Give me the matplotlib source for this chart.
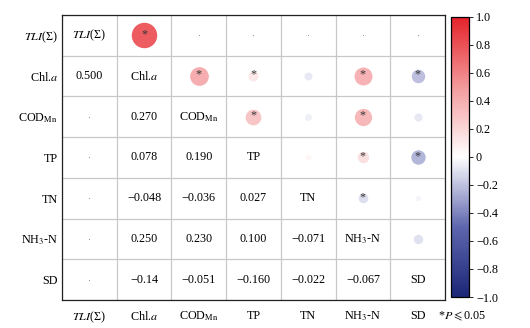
import numpy as np
import matplotlib
matplotlib.use("Agg")
import matplotlib.pyplot as plt
from matplotlib.colors import LinearSegmentedColormap, Normalize
from matplotlib.cm import ScalarMappable

plt.rcParams['font.family'] = ['Liberation Serif', 'DejaVu Serif']
plt.rcParams['mathtext.fontset'] = 'stix'

# --- data ---
labels = [r'$\mathit{TLI}$(Σ)', r'Chl.$\mathit{a}$', r'COD$_{\mathrm{Mn}}$', 'TP', 'TN',
          r'NH$_3$-N', 'SD']
# correlation values (lower triangle, row > col); None -> not shown (dot)
corr = [
    [None, None, None, None, None, None, None],
    [0.500, None, None, None, None, None, None],
    [None, 0.270, None, None, None, None, None],
    [None, 0.078, 0.190, None, None, None, None],
    [None, -0.048, -0.036, 0.027, None, None, None],
    [None, 0.250, 0.230, 0.100, -0.071, None, None],
    [None, -0.14, -0.051, -0.160, -0.022, -0.067, None],
]
# text as printed in the lower triangle
corr_text = {(6, 1): '−0.14'}
# significant pairs (row, col) with P <= 0.05
signif = [(1, 0), (2, 1), (3, 1), (5, 1), (6, 1), (3, 2), (5, 2), (5, 3), (6, 3), (5, 4)]

n = len(labels)

cmap = LinearSegmentedColormap.from_list(
    'rb', [(0.0, '#1b2676'), (0.25, '#5e66ae'), (0.5, '#ffffff'),
           (0.75, '#f39a9c'), (1.0, '#e5222a')])
norm = Normalize(-1, 1)

fig = plt.figure(figsize=(5.3, 3.28), dpi=100)
ax = fig.add_axes([0.117, 0.0854, 0.7226, 0.869])
cax = fig.add_axes([0.851, 0.0945, 0.034, 0.854])

for i in range(n):
    for j in range(n):
        if i == j:
            ax.text(j, i, labels[i], ha='center', va='center', fontsize=8.7)
            continue
        r, c = (i, j) if i > j else (j, i)
        v = corr[r][c]
        if v is None:
            ax.scatter(j, i, s=0.6, color='#8a8a8a', lw=0, zorder=3)
            continue
        if i > j:
            # lower triangle: numbers
            txt = corr_text.get((r, c), f'{v:.3f}'.replace('-', '−'))
            ax.text(j, i, txt, ha='center', va='center', fontsize=8.7)
        else:
            # upper triangle: circles, area ~ |r|
            shade = np.clip(1.5 * v, -1, 1)
            ax.scatter(j, i, s=671 * abs(v), color=cmap(norm(shade)), lw=0, zorder=3)
            if (r, c) in signif:
                ax.text(j, i - 0.03, '*', ha='center', va='center',
                        fontsize=8.7, color='#333333', zorder=4)

ax.set_xlim(-0.5, n - 0.5)
ax.set_ylim(n - 0.5, -0.5)
ax.set_xticks(range(n))
ax.set_yticks(range(n))
ax.set_xticklabels(labels, fontsize=8.7)
ax.set_yticklabels(labels, fontsize=8.7)
ax.set_xticks(np.arange(-0.5, n, 1), minor=True)
ax.set_yticks(np.arange(-0.5, n, 1), minor=True)
ax.grid(which='minor', color='#c8c8c8', lw=0.9)
ax.tick_params(which='both', length=0)
ax.tick_params(axis='x', pad=7)
ax.tick_params(axis='y', pad=3)
for sp in ax.spines.values():
    sp.set_linewidth(0.9)
    sp.set_color('#222222')

cb = fig.colorbar(ScalarMappable(norm=norm, cmap=cmap), cax=cax)
cb.set_ticks(np.round(np.arange(-1, 1.01, 0.2), 1))
cb.set_ticklabels(['−1.0', '−0.8', '−0.6', '−0.4', '−0.2', '0',
                   '0.2', '0.4', '0.6', '0.8', '1.0'])
cb.ax.tick_params(labelsize=8.7, length=3, width=0.6, pad=2)
cb.outline.set_linewidth(0.9)

fig.text(0.827, 0.037, r'*$P\leqslant$0.05', fontsize=8.7, ha='left', va='center')

fig.savefig('out.png', dpi=100)
